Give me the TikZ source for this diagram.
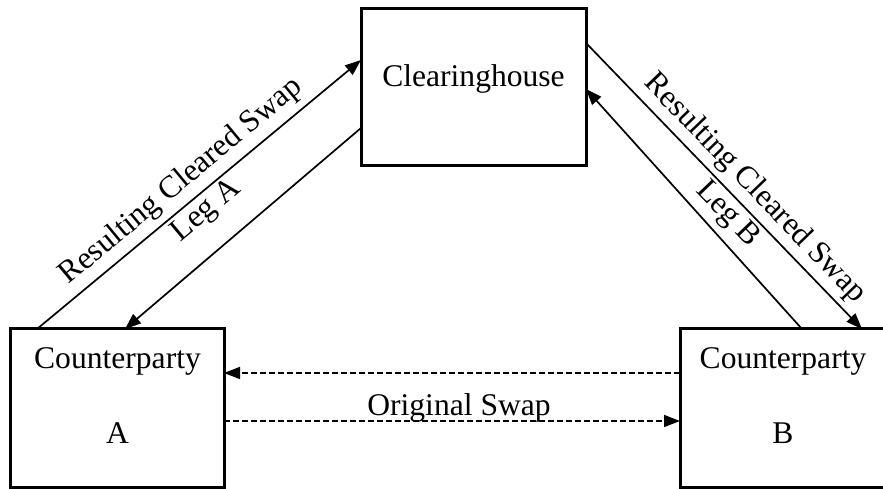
\documentclass[tikz,border=0pt]{standalone}
\usepackage{fontspec}
\setmainfont{Liberation Serif}
\usetikzlibrary{arrows.meta,calc}
\tikzset{
  txt/.style={font=\fontsize{31.7}{37.5}\selectfont, inner sep=0pt},
  box/.style={draw, line width=3bp, outer sep=0pt, inner sep=0pt},
  arr/.style={line width=1.7bp, -{Triangle[length=16bp,width=12bp]}},
  darr/.style={arr, dash pattern=on 6bp off 3bp},
  lbl/.style={font=\fontsize{31.7}{37.5}\selectfont, inner sep=0pt, sloped}
}
\begin{document}
\begin{tikzpicture}[x=1bp,y=-1bp]
\clip (0,0) rectangle (883,489);
% boxes
\node[box, minimum width=225bp, minimum height=157bp] (ch) at (473.5,87.5) {};
\node[box, minimum width=213bp, minimum height=158bp] (A) at (117.5,408) {};
\node[box, minimum width=206bp, minimum height=158bp] (B) at (783,408) {};
% box texts
\node[txt, anchor=base] (cht) at (473.5,87) {Clearinghouse};
\node[txt, anchor=base] (at1) at (117.5,368) {Counterparty};
\node[txt, anchor=base] (at2) at (117.5,443) {A};
\node[txt, anchor=base] (bt1) at (783,368) {Counterparty};
\node[txt, anchor=base] (bt2) at (783,443) {B};
% diagonal connectors
\draw[arr] ([xshift=26bp]A.north west) --
  node[lbl, pos=0.488, above=6bp] (la1) {Resulting Cleared Swap}
  node[lbl, pos=0.488, below=3bp] (la2) {Leg A}
  ([yshift=-51bp]ch.north west);
\draw[arr] ([yshift=-119bp]ch.north west) -- ([xshift=114bp]A.north west);
\draw[arr] ([yshift=-34bp]ch.north east) --
  node[lbl, pos=0.558, above=5bp] (lb1) {Resulting Cleared Swap}
  node[lbl, pos=0.558, below=3bp] (lb2) {Leg B}
  ([xshift=182bp]B.north west);
\draw[arr] ([xshift=122bp]B.north west) -- ([yshift=-80bp]ch.north east);
% dashed connectors
\draw[darr] ([yshift=-44bp]B.north west) -- ([yshift=-44bp]A.north east);
\draw[darr] ([yshift=-92bp]A.north east) -- ([yshift=-92bp]B.north west);
\node[txt, anchor=base] (os) at (459,415) {Original Swap};
\end{tikzpicture}
\end{document}
